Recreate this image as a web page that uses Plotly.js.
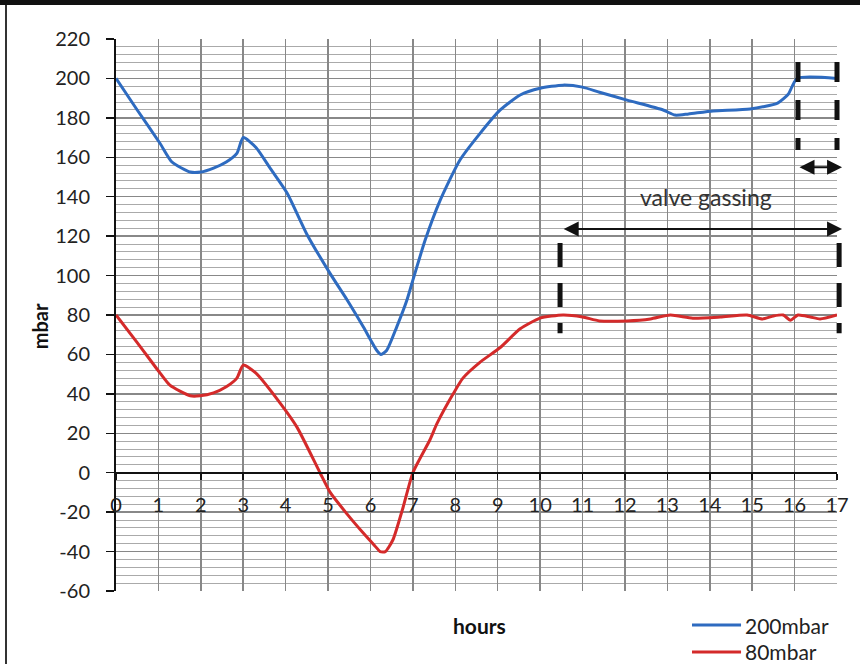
<!DOCTYPE html>
<html>
<head>
<meta charset="utf-8">
<script src="https://cdn.plot.ly/plotly-3.0.1.min.js"></script>
<style>
  html, body { margin: 0; padding: 0; background: #fff; }
  #wrap { position: relative; width: 860px; height: 664px; }
  #chart { position: absolute; left: 0; top: 0; width: 860px; height: 664px; }
  #topbar { position: absolute; left: 0; top: 0; width: 860px; height: 5px; background: #111; z-index: 5; }
  #leftline { position: absolute; left: 5px; top: 5px; width: 2px; height: 659px; background: #333; z-index: 5; }
</style>
</head>
<body>
<div id="wrap">
  <div id="chart"></div>
  <div id="topbar"></div>
  <div id="leftline"></div>
</div>
<script>
// hours
const hours200 = [0, 0.5, 1.04, 1.32, 1.75, 2.0, 2.3, 2.6, 2.85, 3.0, 3.3, 3.65, 4.03, 4.5, 5.05, 5.45, 5.83, 6.15, 6.25, 6.38, 6.62, 6.86, 7.0, 7.29, 7.64, 8.11, 8.58, 9.06, 9.53, 10.0, 10.54, 11.0, 11.4, 12.05, 12.9, 13.18, 13.5, 14.08, 14.95, 15.6, 15.85, 16.06, 17.0];
const mbar200  = [200, 184, 167, 157.6, 152.5, 152.5, 154.5, 157.6, 162, 170, 165, 154, 142, 121, 101, 87.6, 74, 62, 60, 62, 74, 87.6, 97.7, 118, 138, 158.6, 172, 184, 191.6, 195, 196.6, 195.6, 193, 189, 184, 181.4, 182, 183.5, 184.5, 187.5, 192, 200, 200];

const hours80 = [0, 0.5, 1.04, 1.27, 1.75, 1.98, 2.3, 2.6, 2.85, 3.0, 3.3, 3.87, 4.27, 4.81, 5.05, 5.45, 5.83, 6.1, 6.23, 6.35, 6.53, 6.77, 7.0, 7.4, 7.57, 7.95, 8.18, 8.58, 9.06, 9.53, 10.0, 10.54, 11.0, 11.4, 12.05, 12.6, 13.07, 13.6, 14.25, 14.88, 15.24, 15.5, 15.73, 15.9, 16.08, 16.37, 16.6, 17.0];
const mbar80  = [80, 66, 50.5, 44.4, 39, 39, 40.5, 43.6, 48, 54.6, 50.5, 35.3, 23, 0, -10, -21, -30.6, -37, -40, -40, -34, -17.5, 0, 16.6, 25, 40, 48, 56, 63.5, 73, 78.4, 80, 79, 77, 77, 78, 80, 78.4, 79, 80, 78, 79.5, 80, 77.4, 80, 79, 78, 80];

const seriesNames = ['200mbar', '80mbar'];
const seriesColors = ['#2e6bc0', '#d42a2a'];
const xTickVals = [0,1,2,3,4,5,6,7,8,9,10,11,12,13,14,15,16,17];
const yTickVals = [-60,-40,-20,0,20,40,60,80,100,120,140,160,180,200,220];

const FONT = 'Lato, "Open Sans", "DejaVu Sans", sans-serif';
const X_RANGE = [0, 17];
const Y_RANGE = [-60, 220];
// helpers converting data values to axis-domain fractions (for unclipped shapes)
const xd = v => (v - X_RANGE[0]) / (X_RANGE[1] - X_RANGE[0]);
const yd = v => (v - Y_RANGE[0]) / (Y_RANGE[1] - Y_RANGE[0]);

const traces = [
  { x: hours200, y: mbar200, name: seriesNames[0], type: 'scatter', mode: 'lines',
    line: { color: seriesColors[0], width: 3, shape: 'spline', smoothing: 0.6 } },
  { x: hours80, y: mbar80, name: seriesNames[1], type: 'scatter', mode: 'lines',
    line: { color: seriesColors[1], width: 3, shape: 'spline', smoothing: 0.6 } }
];

function vdash(xv, ytop, ybot, dash) {
  return { type: 'line', xref: 'x domain', yref: 'y domain',
    x0: xd(xv), x1: xd(xv), y0: yd(ytop), y1: yd(ybot),
    line: { color: '#111', width: 5, dash: dash } };
}

// manual legend (long line samples as in the reference)
const legendRows = [-0.0616, -0.1105];
const legendShapes = seriesNames.map((n, i) => ({
  type: 'line', xref: 'paper', yref: 'paper', x0: 0.7989, x1: 0.8669,
  y0: legendRows[i], y1: legendRows[i], line: { color: seriesColors[i], width: 3 }
}));
const legendTexts = seriesNames.map((n, i) => ({
  x: 0.8696, y: legendRows[i], xref: 'paper', yref: 'paper', text: n, showarrow: false,
  xanchor: 'left', yanchor: 'middle', font: { size: 21, color: '#222' }
}));

const layout = {
  width: 860, height: 664,
  margin: { l: 116, r: 23, t: 39, b: 73, autoexpand: false },
  paper_bgcolor: '#fff', plot_bgcolor: '#fff',
  font: { family: FONT, size: 20, color: '#222' },
  showlegend: false,
  xaxis: {
    range: X_RANGE, tickvals: xTickVals, ticktext: xTickVals.map(String),
    anchor: 'free', position: 60/280,
    showline: true, linecolor: '#111', linewidth: 2,
    ticks: 'outside', ticklen: 6, tickcolor: '#111', tickwidth: 1.5,
    ticklabelstandoff: 8,
    showgrid: true, gridcolor: '#888888', gridwidth: 1.5,
    zeroline: false, fixedrange: true,
    tickfont: { size: 20, color: '#222' }
  },
  yaxis: {
    range: Y_RANGE, tickvals: yTickVals, ticktext: yTickVals.map(String),
    showline: true, linecolor: '#111', linewidth: 2,
    ticks: 'outside', ticklen: 8, tickcolor: '#111', tickwidth: 1.5,
    ticklabelstandoff: 12,
    showgrid: true, gridcolor: '#888888', gridwidth: 1.5,
    minor: { dtick: 4, showgrid: true, gridcolor: '#aaaaaa', gridwidth: 1 },
    zeroline: true, zerolinecolor: '#111', zerolinewidth: 2,
    tickfont: { size: 20, color: '#222' }, fixedrange: true
  },
  shapes: [
    vdash(10.47, 116.5, 70.8, '24px,16px'),
    vdash(17.05, 116.5, 70.8, '24px,16px'),
    vdash(16.08, 208.3, 163.7, '20px,18px'),
    vdash(17.0, 208.3, 163.7, '20px,18px')
  ].concat(legendShapes),
  annotations: [
    { x: 13.9, y: 140, xref: 'x', yref: 'y', text: 'valve gassing', showarrow: false,
      font: { size: 23, color: '#333' } },
    { x: 17.12, y: 123.6, ax: 10.52, ay: 123.6, xref: 'x', yref: 'y', axref: 'x', ayref: 'y',
      text: '', showarrow: true, arrowhead: 2, arrowside: 'end+start', arrowsize: 1.5,
      arrowwidth: 2, arrowcolor: '#111' },
    { x: 17.12, y: 155, ax: 16.08, ay: 155, xref: 'x', yref: 'y', axref: 'x', ayref: 'y',
      text: '', showarrow: true, arrowhead: 2, arrowside: 'end+start', arrowsize: 1.5,
      arrowwidth: 2, arrowcolor: '#111' },
    { x: 0.5035, y: -0.0616, xref: 'paper', yref: 'paper', text: '<b>hours</b>', showarrow: false,
      font: { size: 21, color: '#111' }, yanchor: 'middle' },
    { x: -0.105, y: 0.48, xref: 'paper', yref: 'paper', text: '<b>mbar</b>', showarrow: false,
      textangle: -90, font: { size: 20, color: '#111' }, xanchor: 'center', yanchor: 'middle' }
  ].concat(legendTexts)
};

Plotly.newPlot('chart', traces, layout, { staticPlot: true, displayModeBar: false });
</script>
</body>
</html>
